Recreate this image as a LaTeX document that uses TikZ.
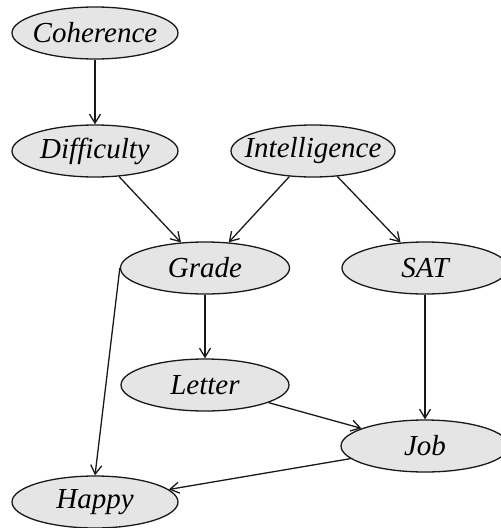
\documentclass[tikz,border=0pt]{standalone}
\usepackage{fontspec}
\setmainfont{Liberation Serif}
\usetikzlibrary{shapes.geometric,arrows.meta}
% zero-width label so the ellipse keeps its fixed size
\newcommand{\varname}[1]{\makebox[0pt]{#1}}
\begin{document}
\begin{tikzpicture}[x=1pt,y=-1pt,
  var/.style={ellipse,draw=black!90,line width=1.3pt,fill=black!10,
    minimum width=166pt,minimum height=52pt,inner sep=0pt,
    font=\fontsize{29}{32}\selectfont\itshape},
  dep/.style={draw=black!90,line width=1.3pt,
    -{Straight Barb[length=9pt,width=11pt,line width=1.3pt]}}]
\clip (0,0) rectangle (501,528);
\node[var] (coh) at (95,33) {\varname{Coherence}};
\node[var] (dif) at (95,151) {\varname{Difficulty}};
\node[var,minimum width=164pt] (int) at (313,151) {\varname{Intelligence}};
\node[var,minimum width=169pt] (gra) at (205,268) {\varname{Grade}};
\node[var] (sat) at (425,268) {\varname{SAT}};
\node[var,minimum width=168pt] (let) at (205,385) {\varname{Letter}};
\node[var,minimum width=168pt] (job) at (425,446) {\varname{Job}};
\node[var] (hap) at (95,502) {\varname{Happy}};
\draw[dep] (coh) -- (dif);
\draw[dep] (dif) -- (gra);
\draw[dep] (int) -- (gra);
\draw[dep] (int) -- (sat);
\draw[dep] (gra) -- (let);
\draw[dep] (sat) -- (job);
\draw[dep] (let) -- (job);
\draw[dep] (job) -- (hap);
\draw[dep] (gra.west) -- (hap.north);
\end{tikzpicture}
\end{document}
